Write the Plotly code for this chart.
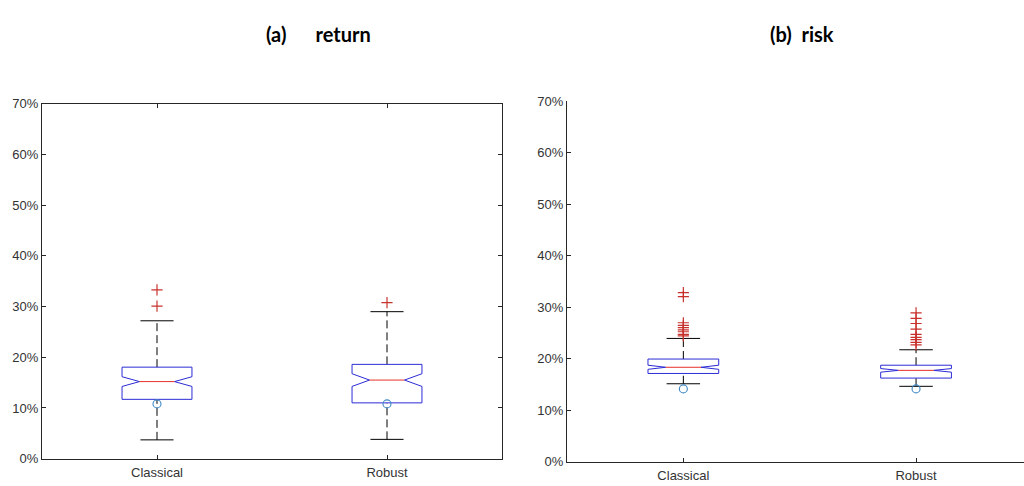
import plotly.graph_objects as go

groups = ["Classical", "Robust"]
positions = [1, 2]

# (a) return, values in %
ret_q1 = [11.7, 11.0]
ret_med = [15.2, 15.5]
ret_q3 = [18.05, 18.6]
ret_lo = [3.7, 3.8]
ret_hi = [27.2, 29.0]
ret_notch = [0.96, 1.25]
ret_mark = [10.8, 10.8]
ret_out = [[30.1, 33.3], [30.8]]

# (b) risk, values in %
risk_q1 = [17.1, 16.2]
risk_med = [18.3, 17.7]
risk_q3 = [19.9, 18.7]
risk_lo = [15.1, 14.6]
risk_hi = [23.9, 21.7]
risk_notch = [0.4, 0.35]
risk_mark = [14.1, 14.1]
risk_out = [[24.4, 24.7, 25.2, 25.55, 26.0, 26.45, 26.95, 32.0, 32.8],
            [22.65, 23.15, 23.65, 24.1, 24.7, 25.7, 26.8, 27.8, 28.85]]

yticks = [0, 10, 20, 30, 40, 50, 60, 70]
ytick_text = [f"{v}%" for v in yticks]

HALF = 0.152
CAP = 0.072
BLUE = "#2b2bd6"
RED = "#e8302a"
OUT_RED = "#c8322d"
CIRC = "#3f88c5"
DARK = "#262626"

fig = go.Figure()


def add_panel(q1, med, q3, lo, hi, notch, mark, outs, xa, ya):
    for i, p in enumerate(positions):
        inner = HALF * 0.5
        nh = med[i] + notch[i]
        nl = med[i] - notch[i]
        bx = [p - HALF, p - HALF, p - inner, p - HALF, p - HALF,
              p + HALF, p + HALF, p + inner, p + HALF, p + HALF, p - HALF]
        by = [q1[i], nl, med[i], nh, q3[i], q3[i], nh, med[i], nl, q1[i], q1[i]]
        fig.add_trace(go.Scatter(x=[p, p, None, p, p], y=[q3[i], hi[i], None, lo[i], q1[i]],
                                 mode="lines", line=dict(color="black", width=1, dash="8px,4px"),
                                 xaxis=xa, yaxis=ya, hoverinfo="skip", showlegend=False))
        fig.add_trace(go.Scatter(x=[p - CAP, p + CAP, None, p - CAP, p + CAP],
                                 y=[hi[i], hi[i], None, lo[i], lo[i]],
                                 mode="lines", line=dict(color="black", width=1),
                                 xaxis=xa, yaxis=ya, hoverinfo="skip", showlegend=False))
        fig.add_trace(go.Scatter(x=bx, y=by, mode="lines", line=dict(color=BLUE, width=1),
                                 xaxis=xa, yaxis=ya, hoverinfo="skip", showlegend=False))
        fig.add_trace(go.Scatter(x=[p - inner, p + inner], y=[med[i], med[i]], mode="lines",
                                 line=dict(color=RED, width=1),
                                 xaxis=xa, yaxis=ya, hoverinfo="skip", showlegend=False))
        fig.add_trace(go.Scatter(x=[p] * len(outs[i]), y=outs[i], mode="markers",
                                 marker=dict(symbol="cross-thin-open", size=8, color=OUT_RED,
                                             line=dict(color=OUT_RED, width=1.2)),
                                 xaxis=xa, yaxis=ya, hoverinfo="skip", showlegend=False))
        fig.add_trace(go.Scatter(x=[p], y=[mark[i]], mode="markers",
                                 marker=dict(symbol="circle-open", size=8, color=CIRC,
                                             line=dict(color=CIRC, width=1.1)),
                                 xaxis=xa, yaxis=ya, hoverinfo="skip", showlegend=False))


add_panel(ret_q1, ret_med, ret_q3, ret_lo, ret_hi, ret_notch, ret_mark, ret_out, "x", "y")
add_panel(risk_q1, risk_med, risk_q3, risk_lo, risk_hi, risk_notch, risk_mark, risk_out, "x2", "y2")

W, H = 1024, 486
tickfont = dict(family="Liberation Sans, Arial, sans-serif", size=13, color="#333333")

common_x = dict(tickvals=positions, ticktext=groups, ticks="inside", ticklen=4,
                tickcolor=DARK, showline=True, linecolor=DARK, linewidth=1,
                showgrid=False, zeroline=False, tickfont=tickfont, fixedrange=True,
                ticklabelstandoff=2)
common_y = dict(range=[0, 70], tickvals=yticks, ticktext=ytick_text, ticks="inside",
                ticklen=4, tickcolor=DARK, showline=True, linecolor=DARK, linewidth=1,
                showgrid=False, zeroline=False, tickfont=tickfont, fixedrange=True)

title_font = dict(family="Lato, Noto Sans, sans-serif", size=20, color="black")
right_range = [0.5, 0.5 + 457 / 232.7]

fig.update_layout(
    width=W, height=H,
    margin=dict(l=0, r=0, t=0, b=0),
    paper_bgcolor="white", plot_bgcolor="white",
    xaxis=dict(common_x, domain=[42 / W, 502 / W], range=[0.5, 2.5], anchor="y", mirror="ticks"),
    yaxis=dict(common_y, domain=[1 - 466 / H, 1 - 100 / H], anchor="x", mirror="ticks"),
    xaxis2=dict(common_x, domain=[567 / W, 1.0], range=right_range, anchor="y2", mirror=False),
    yaxis2=dict(common_y, domain=[1 - 469 / H, 1 - 97 / H], anchor="x2", mirror=False),
    xaxis3=dict(overlaying="x2", side="top", anchor="y2", range=right_range, showline=True,
                linecolor=DARK, linewidth=1, showticklabels=False, ticks="", showgrid=False,
                zeroline=False, fixedrange=True),
    annotations=[
        dict(text="<b>(a)&nbsp;&nbsp;&nbsp;&nbsp;&nbsp;&nbsp;return</b>", x=318 / W, y=1 - 28 / H,
             xref="paper", yref="paper", xanchor="center", yanchor="middle",
             showarrow=False, font=title_font),
        dict(text="<b>(b)&nbsp;&nbsp;risk</b>", x=802 / W, y=1 - 28 / H, xref="paper", yref="paper",
             xanchor="center", yanchor="middle", showarrow=False, font=title_font),
    ],
)

fig.write_html("out.html", config={"displayModeBar": False},
               post_script="document.body.style.margin='0';document.body.style.overflow='hidden';")
